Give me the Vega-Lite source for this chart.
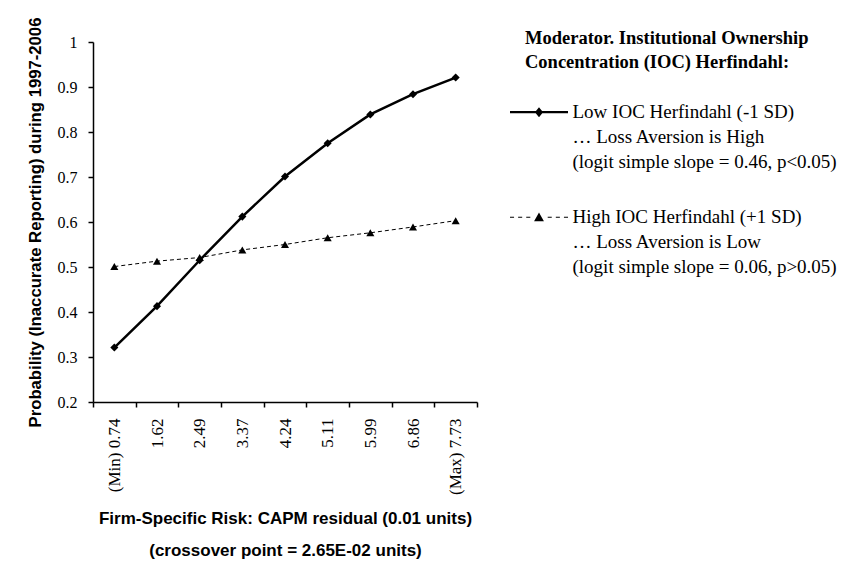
{
  "$schema": "https://vega.github.io/schema/vega-lite/v6.json",
  "width": 384,
  "height": 360,
  "autosize": {"type": "none"},
  "padding": {"left": 93, "top": 42, "right": 369, "bottom": 159},
  "background": "white",
  "config": {
    "view": {"stroke": null},
    "axis": {"domainColor": "black", "tickColor": "black", "labelColor": "black", "titleColor": "black", "grid": false},
    "style": {"guide-label": {"lineHeight": 25}}
  },
  "resolve": {"scale": {"shape": "independent"}},
  "data": {
    "values": [
      {"risk": "(Min) 0.74", "series": "Low IOC Herfindahl (-1 SD)", "p": 0.321},
      {"risk": "1.62", "series": "Low IOC Herfindahl (-1 SD)", "p": 0.413},
      {"risk": "2.49", "series": "Low IOC Herfindahl (-1 SD)", "p": 0.515},
      {"risk": "3.37", "series": "Low IOC Herfindahl (-1 SD)", "p": 0.612},
      {"risk": "4.24", "series": "Low IOC Herfindahl (-1 SD)", "p": 0.701},
      {"risk": "5.11", "series": "Low IOC Herfindahl (-1 SD)", "p": 0.775},
      {"risk": "5.99", "series": "Low IOC Herfindahl (-1 SD)", "p": 0.839},
      {"risk": "6.86", "series": "Low IOC Herfindahl (-1 SD)", "p": 0.884},
      {"risk": "(Max) 7.73", "series": "Low IOC Herfindahl (-1 SD)", "p": 0.921},
      {"risk": "(Min) 0.74", "series": "High IOC Herfindahl (+1 SD)", "p": 0.501},
      {"risk": "1.62", "series": "High IOC Herfindahl (+1 SD)", "p": 0.513},
      {"risk": "2.49", "series": "High IOC Herfindahl (+1 SD)", "p": 0.521},
      {"risk": "3.37", "series": "High IOC Herfindahl (+1 SD)", "p": 0.538},
      {"risk": "4.24", "series": "High IOC Herfindahl (+1 SD)", "p": 0.55},
      {"risk": "5.11", "series": "High IOC Herfindahl (+1 SD)", "p": 0.565},
      {"risk": "5.99", "series": "High IOC Herfindahl (+1 SD)", "p": 0.576},
      {"risk": "6.86", "series": "High IOC Herfindahl (+1 SD)", "p": 0.589},
      {"risk": "(Max) 7.73", "series": "High IOC Herfindahl (+1 SD)", "p": 0.603}
    ]
  },
  "encoding": {
    "x": {
      "field": "risk",
      "type": "ordinal",
      "sort": null,
      "scale": {"type": "band", "paddingInner": 0, "paddingOuter": 0},
      "axis": {
        "title": ["Firm-Specific Risk: CAPM residual (0.01 units)", "(crossover point = 2.65E-02 units)"],
        "titleLineHeight": 32,
        "tickBand": "extent",
        "labelAngle": 270,
        "labelAlign": "right",
        "labelBaseline": "middle",
        "labelFont": "Liberation Serif",
        "labelFontSize": 17,
        "labelPadding": 11,
        "tickSize": 5,
        "tickWidth": 1.5,
        "domainWidth": 1.5,
        "titleFont": "Liberation Sans",
        "titleFontSize": 17,
        "titleFontWeight": "bold",
        "titlePadding": 16
      }
    },
    "y": {
      "field": "p",
      "type": "quantitative",
      "scale": {"domain": [0.2, 1], "nice": false, "zero": false},
      "axis": {
        "title": "Probability (Inaccurate Reporting) during 1997-2006",
        "values": [0.2, 0.3, 0.4, 0.5, 0.6, 0.7, 0.8, 0.9, 1],
        "format": "~g",
        "labelFont": "Liberation Serif",
        "labelFontSize": 16,
        "labelPadding": 11,
        "tickSize": 5,
        "tickWidth": 1.5,
        "domainWidth": 1.5,
        "titleFont": "Liberation Sans",
        "titleFontSize": 16.7,
        "titleFontWeight": "bold",
        "titlePadding": 13
      }
    }
  },
  "layer": [
    {
      "transform": [{"filter": "datum.series == 'Low IOC Herfindahl (-1 SD)'"}],
      "mark": {"type": "line", "color": "black", "strokeWidth": 2.5},
      "encoding": {}
    },
    {
      "transform": [{"filter": "datum.series == 'High IOC Herfindahl (+1 SD)'"}],
      "mark": {"type": "line", "color": "black", "strokeWidth": 1, "strokeDash": [4, 3]},
      "encoding": {}
    },
    {
      "mark": {"type": "point", "filled": true, "opacity": 1, "color": "black", "size": 65},
      "encoding": {
        "shape": {
          "field": "series",
          "type": "nominal",
          "scale": {"domain": ["Low IOC Herfindahl (-1 SD)", "High IOC Herfindahl (+1 SD)"], "range": ["diamond", "triangle-up"]},
          "legend": null
        }
      }
    },
    {
      "mark": {"type": "point", "filled": true, "color": "black", "size": 0},
      "encoding": {
        "shape": {
          "field": "series",
          "type": "nominal",
          "scale": {
            "domain": ["Low IOC Herfindahl (-1 SD)", "High IOC Herfindahl (+1 SD)"],
            "range": [
              "M-1,-0.24L1,-0.24L1,-0.16L-1,-0.16ZM0,-0.37L0.14,-0.2L0,-0.03L-0.14,-0.2Z",
              "M-1,-0.218L-0.86,-0.218L-0.86,-0.182L-1,-0.182ZM-0.72,-0.218L-0.58,-0.218L-0.58,-0.182L-0.72,-0.182ZM-0.44,-0.218L-0.3,-0.218L-0.3,-0.182L-0.44,-0.182ZM0.3,-0.218L0.44,-0.218L0.44,-0.182L0.3,-0.182ZM0.58,-0.218L0.72,-0.218L0.72,-0.182L0.58,-0.182ZM0.86,-0.218L1,-0.218L1,-0.182L0.86,-0.182ZM0,-0.36L0.17,-0.06L-0.17,-0.06Z"
            ]
          },
          "legend": {
            "orient": "none",
            "legendX": 432,
            "legendY": -13,
            "title": ["Moderator.  Institutional Ownership", "Concentration (IOC) Herfindahl:"],
            "titleFont": "Liberation Serif",
            "titleFontSize": 18.5,
            "titleFontWeight": "bold",
            "titleColor": "black",
            "titleLineHeight": 24,
            "titlePadding": 17,
            "titleLimit": 400,
            "labelFont": "Liberation Serif",
            "labelFontSize": 19,
            "labelColor": "black",
            "labelLimit": 400,
            "labelOffset": 4,
            "labelBaseline": "alphabetic",
            "symbolSize": 3364,
            "symbolOffset": -15.5,
            "symbolOpacity": 1,
            "symbolStrokeColor": "black",
            "symbolStrokeWidth": 0.3,
            "rowPadding": 21,
            "labelExpr": "datum.label == 'Low IOC Herfindahl (-1 SD)' ? ['Low IOC Herfindahl (-1 SD)', '… Loss Aversion is High', '(logit simple slope = 0.46, p<0.05)'] : ['High IOC Herfindahl (+1 SD)', '… Loss Aversion is Low', '(logit simple slope = 0.06, p>0.05)']"
          }
        }
      }
    }
  ]
}
